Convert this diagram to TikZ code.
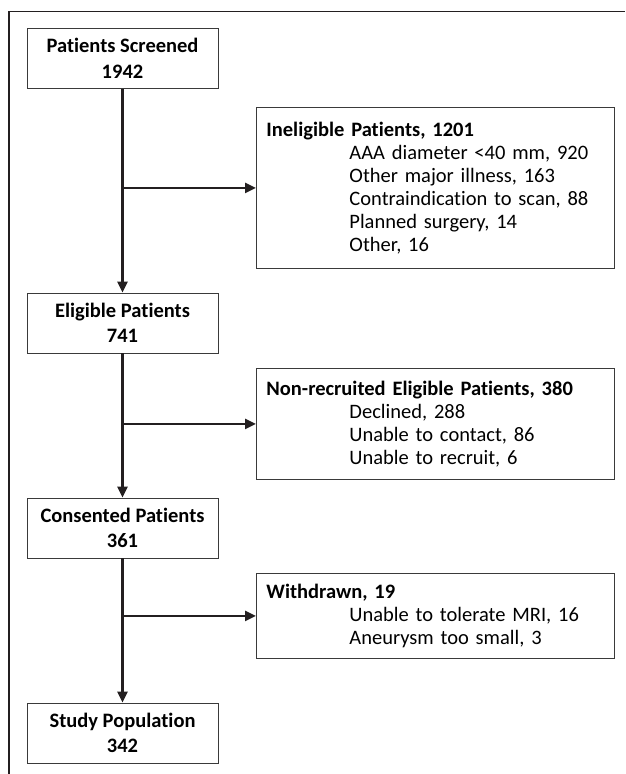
\documentclass[tikz,border=0pt]{standalone}
\usepackage{fontspec}
\setmainfont{Carlito}[Ligatures={NoCommon,NoContextual}]
\usetikzlibrary{arrows.meta}
\definecolor{ink}{HTML}{231F20}
\definecolor{edge}{HTML}{3A3A3A}
\newcommand{\sub}{\hspace*{83pt}}

\begin{document}
\begin{tikzpicture}[x=1pt, y=-1pt,
  mainbox/.style={draw=edge, line width=0.9pt, minimum width=191pt, minimum height=60pt, inner sep=0pt, align=center, font=\fontsize{20.5}{25.5}\selectfont\bfseries},
  sidebox/.style={draw=edge, line width=0.9pt, anchor=north west, text width=338pt, inner xsep=10pt, inner ysep=0pt, align=left, font=\fontsize{20.5}{23}\selectfont},
  flow/.style={ink, line width=2.6pt, -{Triangle[length=11pt,width=10pt]}}]
\useasboundingbox (0,0) rectangle (625,774);
% frame
\draw[ink, line width=1.6pt] (9,774) -- (9,11.5) -- (625,11.5);
% main column
\node[mainbox] (screened) at (122.5,58.5) {Patients Screened\\1942};
\node[mainbox] (eligible) at (122.5,323) {Eligible Patients\\741};
\node[mainbox] (consented) at (122.5,528) {Consented Patients\\361};
\node[mainbox] (study) at (122.5,733) {Study Population\\342};
% exclusions
\node[sidebox, minimum height=161pt] (ineligible) at (256,107) {\textbf{Ineligible Patients, 1201}\\
  \sub AAA diameter <40 mm, 920\\
  \sub Other major illness, 163\\
  \sub Contraindication to scan, 88\\
  \sub Planned surgery, 14\\
  \sub Other, 16};
\node[sidebox, minimum height=111pt] (nonrecruited) at (256,368) {\textbf{Non-recruited Eligible Patients, 380}\\
  \sub Declined, 288\\
  \sub Unable to contact, 86\\
  \sub Unable to recruit, 6};
\node[sidebox, minimum height=85pt] (withdrawn) at (256,573) {\textbf{Withdrawn, 19}\\
  \sub Unable to tolerate MRI, 16\\
  \sub Aneurysm too small, 3};
% arrows
\draw[flow] (screened) -- (eligible);
\draw[flow] (eligible) -- (consented);
\draw[flow] (consented) -- (study);
\draw[flow] (screened.south |- ineligible.west) -- (ineligible.west);
\draw[flow] (eligible.south |- nonrecruited.west) -- (nonrecruited.west);
\draw[flow] (consented.south |- withdrawn.west) -- (withdrawn.west);
\end{tikzpicture}
\end{document}
